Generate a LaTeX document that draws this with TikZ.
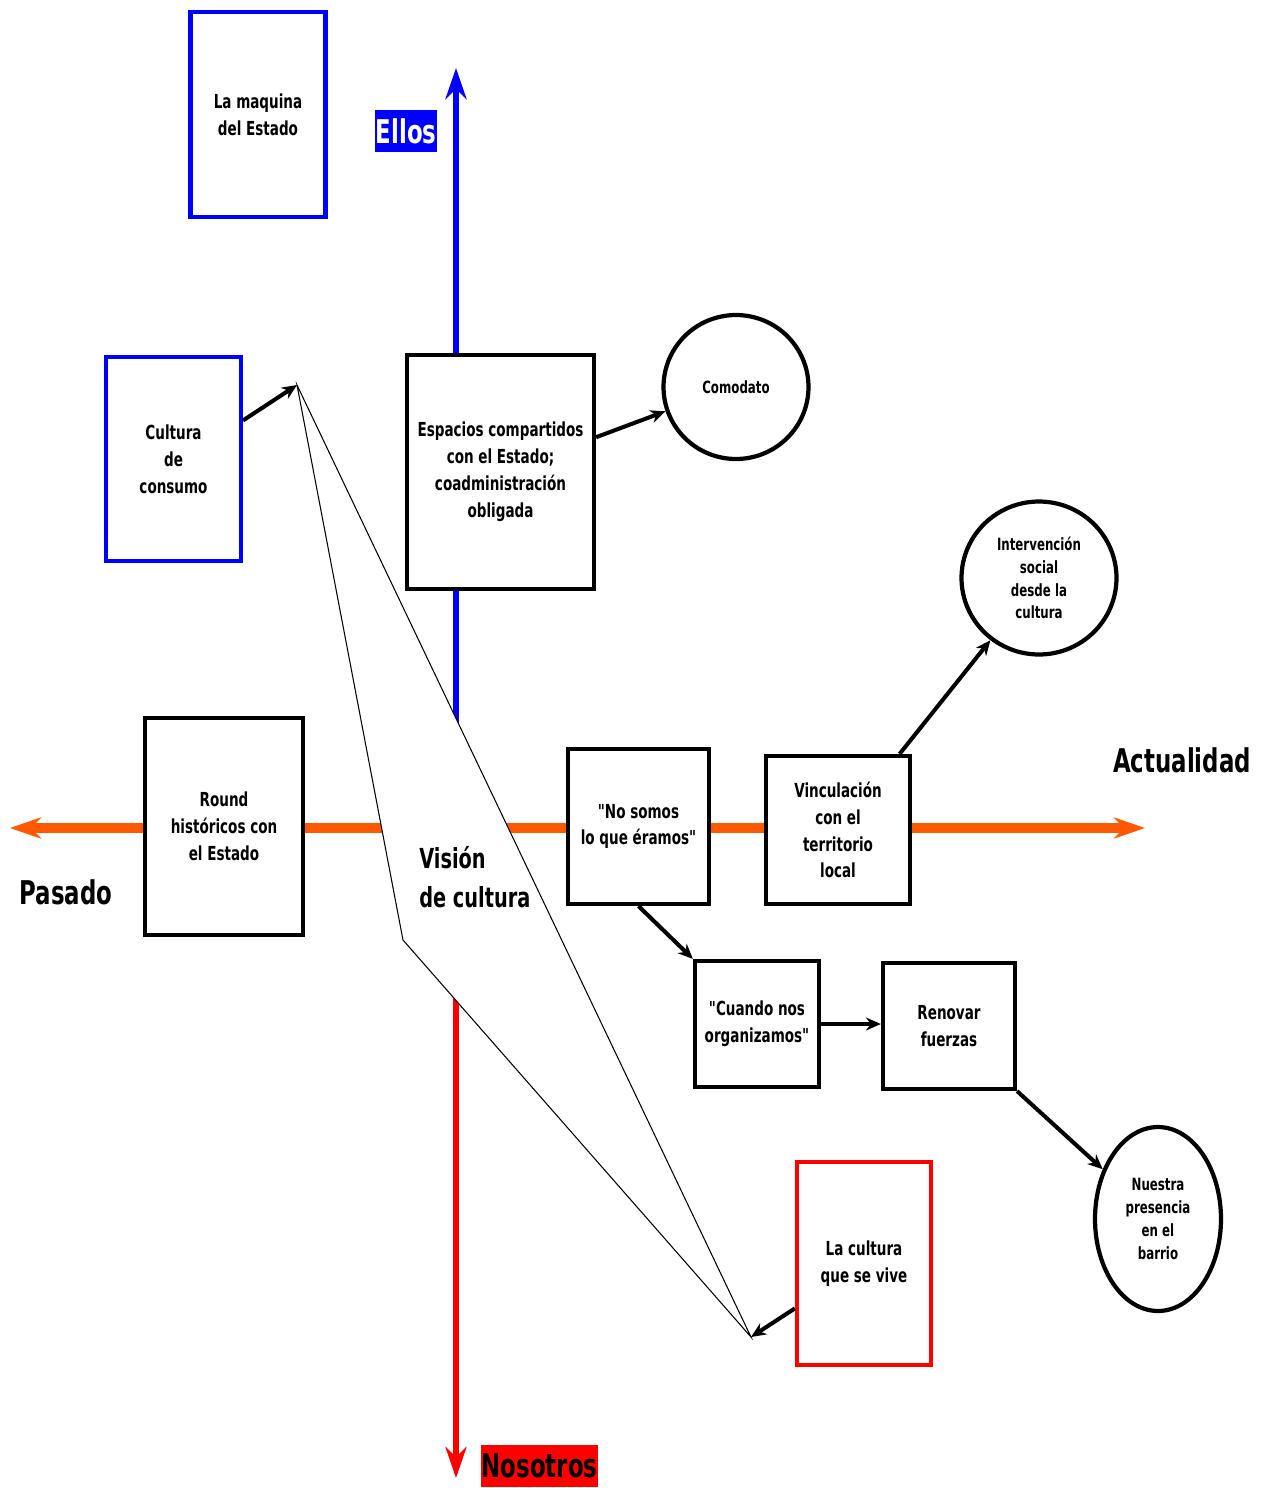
\documentclass[tikz,border=0pt]{standalone}
\usepackage{fontspec}
\setmainfont[FakeStretch=0.7]{DejaVu Sans}
\usepackage{tikz}
\usetikzlibrary{arrows.meta,shapes.geometric}
\definecolor{ejeazul}{RGB}{0,0,255}
\definecolor{ejerojo}{RGB}{255,0,0}
\definecolor{ejenaranja}{RGB}{255,88,0}
\newcommand{\comilla}{\makebox[0.7\width][l]{\XeTeXglyph\the\XeTeXcharglyph"22\relax}}

\begin{document}
\begin{tikzpicture}[x=0.02cm, y=-0.02cm,
  caja/.style={draw, line width=2.4pt, fill=white, rectangle, align=center, inner sep=0pt, font=\bfseries\fontsize{11}{15.3}\selectfont},
  cajaazul/.style={caja, draw=ejeazul},
  cajaroja/.style={caja, draw=ejerojo},
  globo/.style={draw, line width=2.4pt, fill=white, ellipse, align=center, inner sep=0pt, font=\bfseries\fontsize{9.6}{13}\selectfont},
  eje/.style={-{Stealth[length=0.62cm,width=0.42cm,inset=0.2cm]}},
  flecha/.style={-{Stealth[length=0.3cm,width=0.26cm]}, line width=2.3pt},
  titulo/.style={font=\bfseries\fontsize{18.6}{22}\selectfont, inner sep=0pt}]
  \useasboundingbox (0,0) rectangle (1263,1488);

  % ejes
  \coordinate (origen) at (456,828);
  \coordinate (arriba) at (456,68);
  \coordinate (abajo) at (456,1478);
  \coordinate (izq) at (10,828);
  \coordinate (der) at (1145,828);
  \draw[eje, ejeazul, line width=3.6pt] (origen) -- (arriba);
  \draw[eje, ejerojo, line width=3.6pt] (origen) -- (abajo);
  \draw[eje, ejenaranja, line width=5.6pt] (origen) -- (izq);
  \draw[eje, ejenaranja, line width=5.6pt] (origen) -- (der);

  \node[titulo, fill=ejeazul, text=white, minimum width=1.24cm, minimum height=0.84cm] (ellos) at (406,131) {Ellos};
  \node[titulo, fill=ejerojo, minimum width=2.34cm, minimum height=0.84cm] (nosotros) at (539.5,1466) {Nosotros};
  \node[titulo] (pasado) at (66,892) {Pasado};
  \node[titulo] (actual) at (1182,760) {Actualidad};

  % vision de cultura
  \coordinate (vertA) at (297,385);
  \coordinate (vertB) at (403,940);
  \coordinate (vertC) at (751,1337);
  \draw[fill=white, line width=0.6pt] (vertA) -- (vertB) -- (vertC) -- cycle;
  \node[anchor=west, align=left, inner sep=0pt, font=\bfseries\fontsize{15.7}{22}\selectfont] (vision) at (419,877) {Visión\\de cultura};

  % cajas
  \node[cajaazul, minimum width=2.70cm, minimum height=4.10cm] (maquina) at (258,114.5) {La maquina\\del Estado};
  \node[cajaazul, minimum width=2.70cm, minimum height=4.08cm] (consumo) at (173.5,459) {Cultura\\de\\consumo};
  \node[caja, minimum width=3.74cm, minimum height=4.68cm] (espacios) at (500.5,472) {Espacios compartidos\\con el Estado;\\coadministración\\obligada};
  \node[caja, minimum width=3.16cm, minimum height=4.34cm] (round) at (224,826.5) {Round\\históricos con\\el Estado};
  \node[caja, minimum width=2.82cm, minimum height=3.10cm] (nosomos) at (638.5,826.5) {\comilla No somos\\lo que éramos\comilla};
  \node[caja, minimum width=2.88cm, minimum height=2.96cm] (vinculo) at (838,830) {Vinculación\\con el\\territorio\\local};
  \node[caja, minimum width=2.48cm, minimum height=2.52cm] (cuando) at (757,1024) {\comilla Cuando nos\\organizamos\comilla};
  \node[caja, minimum width=2.64cm, minimum height=2.52cm] (renovar) at (949,1026) {Renovar\\fuerzas};
  \node[cajaroja, minimum width=2.68cm, minimum height=4.06cm] (vive) at (864,1263.5) {La cultura\\que se vive};

  \node[globo, minimum width=2.90cm, minimum height=2.88cm] (comodato) at (736,387) {Comodato};
  \node[globo, minimum width=3.10cm, minimum height=3.06cm] (interv) at (1039,578) {Intervención\\social\\desde la\\cultura};
  \node[globo, minimum width=2.52cm, minimum height=3.68cm] (presencia) at (1158,1219) {Nuestra\\presencia\\en el\\barrio};

  % flechas
  \draw[flecha] (consumo.29) -- (vertA);
  \draw[flecha] (espacios.20) -- (comodato.199);
  \draw[flecha] (vinculo.51) -- (interv.232);
  \draw[flecha] (nosomos.south) -- (cuando.north west);
  \draw[flecha] (cuando.east) -- (cuando.east -| renovar.west);
  \draw[flecha] (renovar.south east) -- (presencia.138);
  \draw[flecha] (vive.213) -- (vertC);
\end{tikzpicture}
\end{document}
